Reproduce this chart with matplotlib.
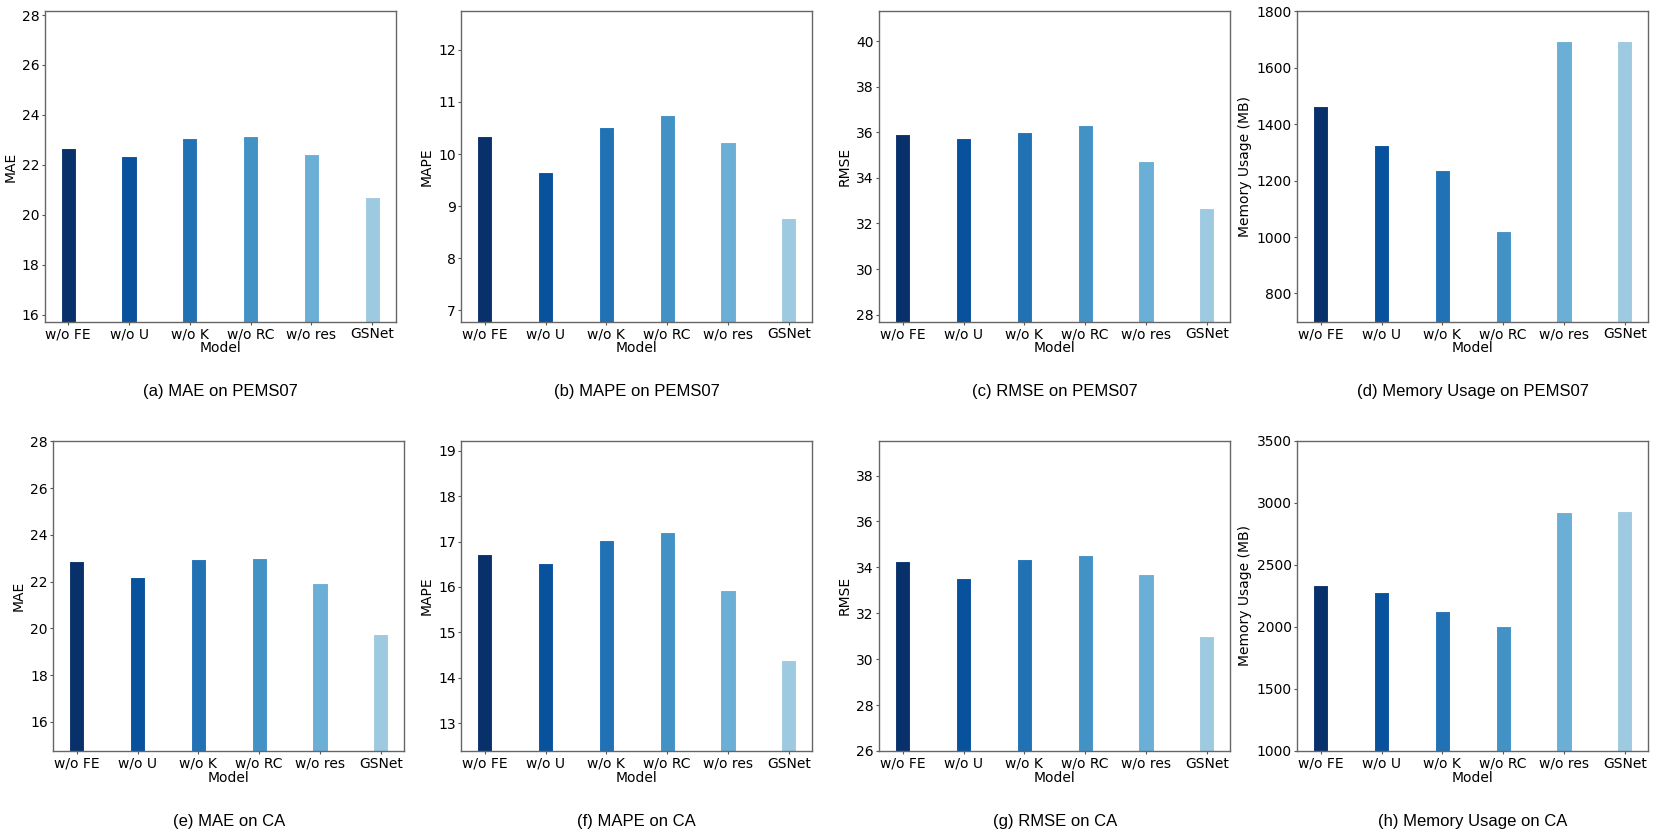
import matplotlib
matplotlib.use("Agg")
import matplotlib.pyplot as plt
import numpy as np

plt.rcParams["font.family"] = ["DejaVu Sans"]

models = ["w/o FE", "w/o U", "w/o K", "w/o RC", "w/o res", "GSNet"]
colors = ["#08306b", "#08519c", "#2171b5", "#4292c6", "#6baed6", "#9ecae1"]

mae_pems07 = [22.67, 22.37, 23.07, 23.15, 22.43, 20.72]
mape_pems07 = [10.35, 9.65, 10.52, 10.74, 10.24, 8.78]
rmse_pems07 = [35.93, 35.75, 36.02, 36.31, 34.73, 32.69]
mem_pems07 = [1464, 1326, 1238, 1023, 1693, 1695]

mae_ca = [22.87, 22.21, 22.95, 23.03, 21.94, 19.75]
mape_ca = [16.73, 16.52, 17.03, 17.22, 15.93, 14.39]
rmse_ca = [34.28, 33.54, 34.35, 34.52, 33.71, 31.00]
mem_ca = [2341, 2277, 2126, 2005, 2922, 2930]

panels = [
    (mae_pems07, "MAE", "(a) MAE on PEMS07", ("pad", 5)),
    (mape_pems07, "MAPE", "(b) MAPE on PEMS07", ("pad", 2)),
    (rmse_pems07, "RMSE", "(c) RMSE on PEMS07", ("pad", 5)),
    (mem_pems07, "Memory Usage (MB)", "(d) Memory Usage on PEMS07", ("fix", (700, 1800))),
    (mae_ca, "MAE", "(e) MAE on CA", ("pad", 5)),
    (mape_ca, "MAPE", "(f) MAPE on CA", ("pad", 2)),
    (rmse_ca, "RMSE", "(g) RMSE on CA", ("pad", 5)),
    (mem_ca, "Memory Usage (MB)", "(h) Memory Usage on CA", ("fix", (1000, 3500))),
]

W, H = 1661, 834
fig = plt.figure(figsize=(W / 100, H / 100), dpi=100)

lefts_top = [44.7, 461.3, 879.3, 1297.3]
lefts_bot = [53.3, 461.3, 879.3, 1297.3]
width_px = 351.0
rows = [(11.3, 321.7), (440.7, 751.0)]
caption_y = [391.5, 821.5]

for i, (vals, ylabel, caption, lim) in enumerate(panels):
    r, c = divmod(i, 4)
    left = (lefts_top if r == 0 else lefts_bot)[c]
    top, bottom = rows[r]
    ax = fig.add_axes([left / W, 1 - bottom / H, width_px / W, (bottom - top) / H])
    x = np.arange(len(models))
    ax.bar(x, vals, width=0.25, color=colors, edgecolor="white", linewidth=0.8)
    if lim[0] == "pad":
        ax.set_ylim(min(vals) - lim[1], max(vals) + lim[1])
    else:
        ax.set_ylim(*lim[1])
    ax.set_xticks(x)
    ax.set_xticklabels(models, fontsize=10)
    ax.tick_params(axis="y", labelsize=10)
    ax.tick_params(axis="both", color="#555555", length=2.5, pad=1.5)
    ax.set_xlabel("Model", fontsize=10, labelpad=0)
    ax.set_ylabel(ylabel, fontsize=10, labelpad=3)
    for s in ax.spines.values():
        s.set_color("#666666")
        s.set_linewidth(1.0)
    cx = (left + width_px / 2) / W
    fig.text(cx, 1 - caption_y[r] / H, caption, ha="center", va="center",
             fontsize=12, family="Liberation Sans")

fig.savefig("out.png", dpi=100)
